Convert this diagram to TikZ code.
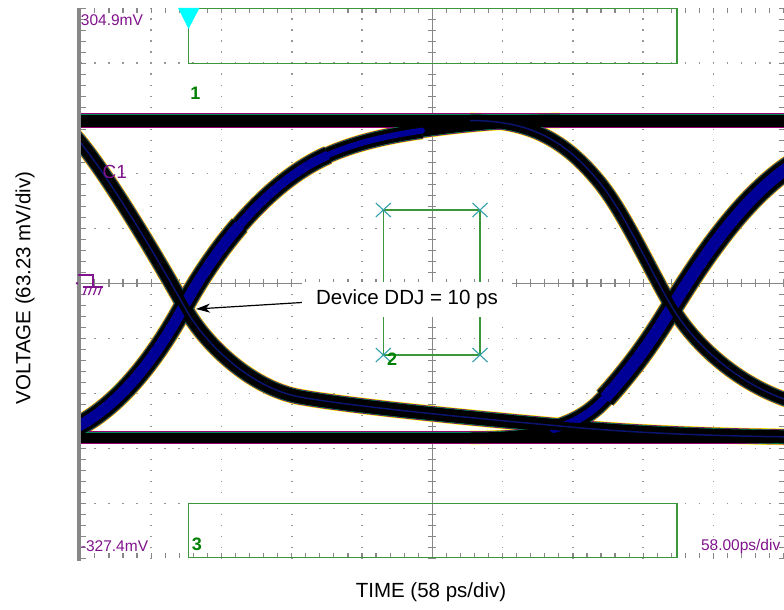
\documentclass[tikz,border=0pt]{standalone}
\usepackage{fontspec}
\setmainfont{Liberation Sans}
\usetikzlibrary{arrows.meta}

\definecolor{gridgray}{RGB}{150,150,150}
\definecolor{axisgray}{RGB}{135,135,135}
\definecolor{scopepurple}{RGB}{128,20,140}
\definecolor{boxgreen}{RGB}{60,150,60}
\definecolor{labelgreen}{RGB}{0,128,0}
\definecolor{cursorteal}{RGB}{50,160,170}
\definecolor{trigcyan}{RGB}{0,255,255}
\definecolor{eyeblue}{RGB}{0,0,150}
\definecolor{darkcore}{RGB}{10,20,110}
\definecolor{fringeyellow}{RGB}{255,255,0}
\definecolor{fringepurple}{RGB}{150,0,110}
\definecolor{fringegreen}{RGB}{0,140,90}

% eye traces, in screen pixels
\newcommand{\toprail}{(60,120.5) -- (800,120.5)}
\newcommand{\botrail}{(60,437.5) -- (800,437.5)}
\newcommand{\fallleft}{(70,131) .. controls (95,155) and (150,245) .. (184,306) .. controls (203,342) and (250,388) .. (300,397) .. controls (350,406) and (460,417) .. (560,426) .. controls (620,432) and (700,436) .. (800,437)}
\newcommand{\fallright}{(470,120.5) .. controls (530,120.5) and (565,140) .. (600,183) .. controls (625,214) and (650,270) .. (672,307) .. controls (694,344) and (740,388) .. (800,404)}
\newcommand{\riseleftlow}{(66,432) .. controls (120,410) and (160,350) .. (184,306) .. controls (196,284) and (215,253.75) .. (239.5,225.25)}
\newcommand{\riseleftmid}{(239.5,225.25) .. controls (264,196.75) and (294,170) .. (328,155)}
\newcommand{\riseleftarch}{(328,155) .. controls (353.5,143.75) and (384,136) .. (421.9,130.7)}
\newcommand{\riselefttop}{(421.9,130.7) .. controls (459.75,125.4) and (505,120.5) .. (560,120.5)}
\newcommand{\riserightfoot}{(470,437.5) .. controls (505,437.5) and (532,435.1) .. (553.6,429)}
\newcommand{\riserightbend}{(553.6,429) .. controls (575.25,422.9) and (591.5,413) .. (605,398)}
\newcommand{\riserightup}{(605,398) .. controls (635,365) and (655,335) .. (672,307) .. controls (700,262) and (745,192) .. (800,160)}

\begin{document}
\begin{tikzpicture}[x=1pt, y=-1pt,
    griddots/.style={gridgray, line width=1.6pt},
    gridtick/.style={axisgray, line width=1.2pt},
    axisline/.style={axisgray, line width=1.5pt},
    boxline/.style={boxgreen, line width=1.4pt},
    cursorx/.style={cursorteal, line width=1.1pt},
    scopelabel/.style={scopepurple, font=\fontsize{15.5}{18}\selectfont, inner sep=0pt},
    boxlabel/.style={labelgreen, font=\fontsize{18}{20}\selectfont\bfseries, inner sep=0pt},
    axislabel/.style={font=\fontsize{20.5}{24}\selectfont, inner sep=0pt}]
    \fill[white] (0,0) rectangle (784,610);
    \useasboundingbox (0,0) rectangle (784,610);

    % graticule
    \foreach \i in {1,...,9} {
        \draw[griddots, dash pattern=on 1.6pt off 9.4pt, dash phase=0.8pt] ({80.8+\i*70.3},8.3) -- ({80.8+\i*70.3},558.3);
        \draw[griddots, dash pattern=on 1.6pt off 12.46pt, dash phase=0.8pt] (80.8,{8.3+\i*55}) -- (783.8,{8.3+\i*55});
    }
    \draw[axisline] (432.3,8.3) -- (432.3,558.3);
    \draw[axisline] (80.8,283.3) -- (783.8,283.3);
    \foreach \k in {0,...,50} {
        \draw[gridtick] (80.8,{8.3+\k*11}) -- ++(5,0);
        \draw[gridtick] (783.8,{8.3+\k*11}) -- ++(-5,0);
        \draw[gridtick] (428.3,{8.3+\k*11}) -- ++(8,0);
        \draw[gridtick] ({80.8+\k*14.06},8.3) -- ++(0,5);
        \draw[gridtick] ({80.8+\k*14.06},558.3) -- ++(0,-5);
        \draw[gridtick] ({80.8+\k*14.06},279.3) -- ++(0,8);
    }

    % eye diagram
    \begin{scope}
        \clip (80.8,8.3) rectangle (783.8,558.3);
        \foreach \extra/\col in {3.6/fringeyellow,2.4/fringepurple,1.2/fringegreen,0/black} {
            \draw[line width={(12+\extra)*1pt}, color=\col] \toprail;
            \draw[line width={(10+\extra)*1pt}, color=\col] \botrail;
            \draw[line width={(13+\extra)*1pt}, color=\col] \fallleft;
            \draw[line width={(12+\extra)*1pt}, color=\col] \fallright;
            \draw[line width={(18+\extra)*1pt}, color=\col] \riseleftlow;
            \draw[line width={(16+\extra)*1pt}, color=\col] \riseleftmid;
            \draw[line width={(14+\extra)*1pt}, color=\col] \riseleftarch;
            \draw[line width={(12+\extra)*1pt}, color=\col] \riselefttop;
            \draw[line width={(10+\extra)*1pt}, color=\col] \riserightfoot;
            \draw[line width={(16+\extra)*1pt}, color=\col] \riserightbend;
            \draw[line width={(20+\extra)*1pt}, color=\col] \riserightup;
        }
        \draw[line width=11pt, eyeblue] \riseleftlow;
        \draw[line width=9pt, eyeblue] \riseleftmid;
        \draw[line width=6pt, eyeblue, line cap=round] \riseleftarch;
        \draw[line width=8pt, eyeblue, line cap=round] \riserightbend;
        \draw[line width=12pt, eyeblue] \riserightup;
        \draw[line width=9pt, black] \fallleft;
        \draw[line width=9pt, black] \fallright;
        \foreach \p in {\fallleft,\fallright}
            \draw[line width=1.5pt, darkcore] \p;
    \end{scope}

    \fill[axisgray] (76.5,8.3) rectangle (80.8,561);

    % markers
    \draw[boxline] (188.5,8.3) rectangle (677,63.3);
    \fill[trigcyan] (178,8) -- (199.5,8) -- (188.5,29) -- cycle;
    \draw[boxline] (188.5,503.3) rectangle (677,557.5);
    \coordinate (ctl) at (383.3,210);
    \coordinate (ctr) at (480,210);
    \coordinate (cbl) at (383.3,355);
    \coordinate (cbr) at (480,355);
    \draw[boxline] (ctl) -- (ctr) -- (cbr) -- (cbl) -- cycle;
    \foreach \c in {ctl,ctr,cbl,cbr}
        \draw[cursorx] ([shift={(-7.5,-7)}]\c) -- ([shift={(7.5,7)}]\c)
                       ([shift={(-7.5,7)}]\c) -- ([shift={(7.5,-7)}]\c);

    % ground reference
    \draw[scopepurple, line width=1.5pt] (78,275) -- (93,275) -- (93,286);
    \draw[scopepurple, line width=1.5pt] (83,287) -- (102.5,287);
    \foreach \h in {86.5,91.5,96.5,101.5}
        \draw[scopepurple, line width=1.2pt] (\h,287) -- ++(-3,8);
    \fill[scopepurple] (77,283.3) circle (1.4);

    % labels
    \node[scopelabel, anchor=base west] (vtop) at (80.7,26) {304.9mV};
    \node[scopelabel, anchor=base west] (vbot) at (80.7,551) {-327.4mV};
    \node[scopelabel, anchor=base east] (tdiv) at (780.5,550.5) {58.00ps/div};
    \node[scopelabel, font=\fontsize{19}{21}\selectfont] (chan) at (114.7,172) {C1};
    \node[boxlabel] (lbl1) at (195.5,93) {1};
    \node[boxlabel] (lbl2) at (392,359) {2};
    \node[boxlabel] (lbl3) at (197,544) {3};

    \coordinate (cross1) at (196,309);
    \node[axislabel, fill=white, inner xsep=14pt, inner ysep=8pt] (ddj) at (407,299.5) {Device DDJ = 10 ps};
    \draw[-{Stealth[length=14pt, width=9pt, inset=4pt]}, line width=1.2pt] ([yshift=-3pt]ddj.west) -- (cross1);

    \node[axislabel, rotate=90] (ylab) at (25,288) {VOLTAGE (63.23 mV/div)};
    \node[axislabel] (xlab) at (431,592) {TIME (58 ps/div)};
\end{tikzpicture}
\end{document}
